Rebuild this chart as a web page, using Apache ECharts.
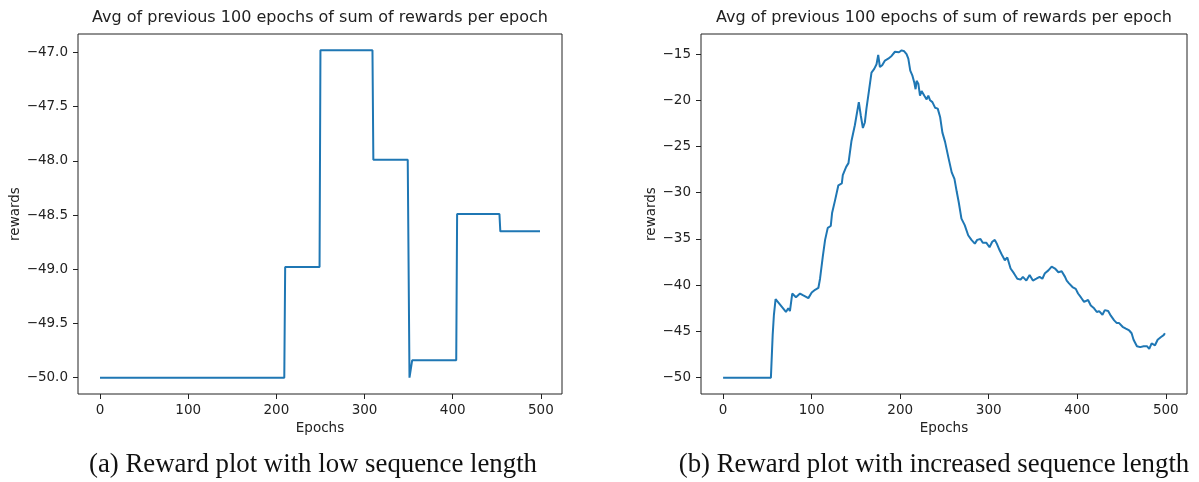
<!DOCTYPE html>
<html>
<head>
<meta charset="utf-8">
<script src="https://cdn.jsdelivr.net/npm/echarts@6/dist/echarts.min.js"></script>
<style>
html,body{margin:0;padding:0;background:#fff;}
#chart{width:1199px;height:482px;}
</style>
</head>
<body>
<div id="chart"></div>
<script>
// ---- data ----
var titleText = 'Avg of previous 100 epochs of sum of rewards per epoch';
var captionA = '(a) Reward plot with low sequence length';
var captionB = '(b) Reward plot with increased sequence length';
var xTicks = [0, 100, 200, 300, 400, 500];
var leftYTicks = [-50.0, -49.5, -49.0, -48.5, -48.0, -47.5, -47.0];
var rightYTicks = [-50, -45, -40, -35, -30, -25, -20, -15];

var leftEpochs  = [0, 209, 210, 249, 250, 309, 310, 349, 351, 353, 354, 404, 405, 453, 454, 499];
var leftRewards = [-50, -50, -48.98, -48.98, -46.98, -46.98, -47.99, -47.99, -50, -50, -49.84, -49.84, -48.49, -48.49, -48.65, -48.65];

var rightEpochs = [0, 54, 56, 57.4, 59.3, 71, 73.6, 75.5, 78.1, 82.3, 86.9, 90.6, 96.3, 100.1, 103.9, 107.6, 109.5, 112.6, 115.2, 118.2, 121.6, 123.1, 126.5, 130.2, 134.1, 135.2, 139, 141.6, 145, 148.8, 153.3, 155.6, 157.9, 160.1, 161.9, 164.7, 167.6, 170.7, 173.3, 175.2, 177.1, 179.7, 182.8, 186.5, 190.3, 194.1, 198.6, 201.6, 204.6, 207.2, 209.2, 211.4, 213.7, 216, 217.4, 218.6, 220.5, 222.4, 224.2, 227.3, 229.9, 231.8, 233.8, 236.4, 239.4, 242.4, 245.1, 247.7, 250.7, 254.5, 258.2, 261.3, 263.9, 266.1, 269.2, 272.9, 276.8, 280.5, 284.3, 287, 290.7, 293.3, 297.2, 300.9, 304, 306.9, 309.6, 312.2, 315.3, 318.2, 321, 324.7, 328.4, 332.3, 336, 338.6, 342.5, 346.2, 349.9, 353.8, 357.5, 360.6, 363.5, 367.4, 371.1, 374.9, 378.7, 382.4, 386.2, 388.1, 390.7, 394.6, 398.3, 400.9, 404, 407.7, 412.2, 415.3, 419, 422.1, 424.7, 428.5, 431.1, 434.9, 437.9, 441.7, 444.7, 447.3, 451.2, 454.9, 458.7, 461.4, 463.6, 467.4, 471.1, 475, 478.7, 481.3, 484, 487.8, 490.8, 494.6, 497.6, 499];
var rightRewards = [-50, -50, -45.4, -43.2, -41.5, -42.9, -42.5, -42.8, -40.9, -41.3, -40.9, -41.1, -41.4, -40.8, -40.5, -40.3, -39.3, -36.9, -35.1, -33.8, -33.6, -32.2, -30.8, -29.2, -29.0, -28.1, -27.2, -26.8, -24.4, -22.7, -20.2, -21.7, -23.0, -22.4, -20.9, -19.0, -17.0, -16.6, -16.1, -15.1, -16.4, -16.2, -15.7, -15.5, -15.2, -14.75, -14.8, -14.6, -14.7, -15.0, -15.5, -16.8, -17.3, -18.1, -18.8, -17.9, -18.2, -19.5, -19.0, -19.5, -19.9, -19.5, -20.0, -20.2, -20.8, -20.9, -21.8, -23.5, -24.5, -26.2, -27.8, -28.5, -29.9, -31.0, -32.8, -33.5, -34.6, -35.1, -35.5, -35.1, -35.0, -35.4, -35.4, -35.9, -35.3, -35.1, -35.6, -36.2, -36.8, -37.3, -37.0, -38.2, -38.7, -39.3, -39.4, -39.1, -39.5, -38.9, -39.5, -39.3, -39.1, -39.3, -38.7, -38.4, -38.0, -38.2, -38.6, -38.5, -39.1, -39.5, -39.8, -40.2, -40.4, -40.9, -41.3, -41.8, -41.6, -42.2, -42.5, -42.9, -42.8, -43.2, -42.7, -42.8, -43.3, -43.8, -44.1, -44.1, -44.5, -44.7, -44.9, -45.2, -45.9, -46.6, -46.7, -46.6, -46.6, -46.9, -46.3, -46.5, -45.9, -45.6, -45.4, -45.2];

function zip(a, b) { return a.map(function (v, i) { return [v, b[i]]; }); }
function fmtMinus(s) { return String(s).replace('-', '\u2212'); }

var TXT = '#222';
var FONT = 'DejaVu Sans';
var TICKFS = 13.5;

function xAxisFor(idx) {
  return {
    type: 'value', gridIndex: idx, min: -24.95, max: 523.95,
    name: 'Epochs', nameLocation: 'middle', nameGap: 27,
    nameTextStyle: { color: TXT, fontFamily: FONT, fontSize: TICKFS },
    axisLine: { show: false, onZero: false },
    splitLine: { show: false },
    axisTick: { show: true, length: 5, lineStyle: { color: TXT }, customValues: xTicks },
    axisLabel: { color: TXT, fontFamily: FONT, fontSize: TICKFS, margin: 9, customValues: xTicks,
      formatter: function (v) { return fmtMinus(v); } }
  };
}

function yAxisFor(idx, min, max, ticks, dec, gap) {
  return {
    type: 'value', gridIndex: idx, min: min, max: max,
    name: 'rewards', nameLocation: 'middle', nameGap: gap,
    nameTextStyle: { color: TXT, fontFamily: FONT, fontSize: TICKFS },
    axisLine: { show: false, onZero: false },
    splitLine: { show: false },
    axisTick: { show: true, length: 5, lineStyle: { color: TXT }, customValues: ticks },
    axisLabel: { color: TXT, fontFamily: FONT, fontSize: TICKFS, margin: 10, customValues: ticks,
      formatter: function (v) { return fmtMinus(v.toFixed(dec)); } }
  };
}

var chart = echarts.init(document.getElementById('chart'), null, { renderer: 'canvas' });
chart.setOption({
  animation: false,
  backgroundColor: '#fff',
  grid: [
    { left: 78, top: 34, width: 484, height: 360, show: true, borderColor: TXT, borderWidth: 1, backgroundColor: 'transparent' },
    { left: 701, top: 34, width: 486, height: 360, show: true, borderColor: TXT, borderWidth: 1, backgroundColor: 'transparent' }
  ],
  xAxis: [xAxisFor(0), xAxisFor(1)],
  yAxis: [
    yAxisFor(0, -50.151, -46.829, leftYTicks, 1, 55),
    yAxisFor(1, -51.77, -12.83, rightYTicks, 0, 41)
  ],
  series: [
    { type: 'line', xAxisIndex: 0, yAxisIndex: 0, data: zip(leftEpochs, leftRewards), showSymbol: false,
      lineStyle: { color: '#1f77b4', width: 2 }, itemStyle: { color: '#1f77b4' } },
    { type: 'line', xAxisIndex: 1, yAxisIndex: 1, data: zip(rightEpochs, rightRewards), showSymbol: false,
      lineStyle: { color: '#1f77b4', width: 2 }, itemStyle: { color: '#1f77b4' } }
  ],
  graphic: [
    { type: 'text', x: 320, y: 18, style: { text: titleText, fill: TXT, font: '16px "DejaVu Sans"', textAlign: 'center', textVerticalAlign: 'middle' } },
    { type: 'text', x: 944, y: 18, style: { text: titleText, fill: TXT, font: '16px "DejaVu Sans"', textAlign: 'center', textVerticalAlign: 'middle' } },
    { type: 'text', x: 313, y: 465, style: { text: captionA, fill: '#111', font: '26.8px "Liberation Serif"', textAlign: 'center', textVerticalAlign: 'middle' } },
    { type: 'text', x: 934, y: 465, style: { text: captionB, fill: '#111', font: '26.8px "Liberation Serif"', textAlign: 'center', textVerticalAlign: 'middle' } }
  ]
});
</script>
</body>
</html>
